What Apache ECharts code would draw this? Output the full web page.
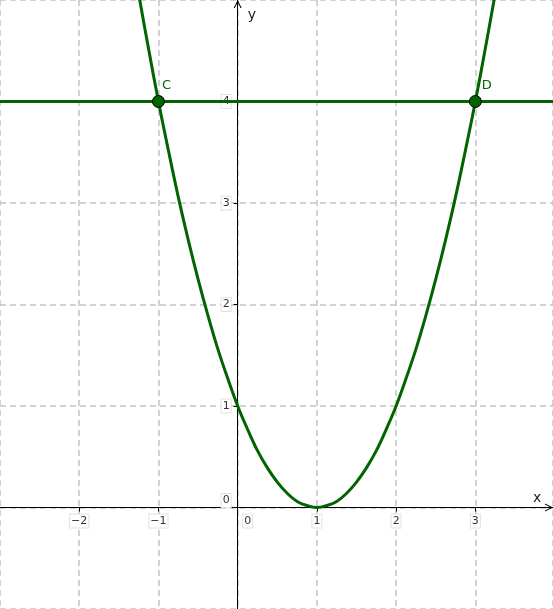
<!DOCTYPE html>
<html><head><meta charset="utf-8">
<script src="https://cdn.jsdelivr.net/npm/echarts@6/dist/echarts.min.js"></script>
<style>html,body{margin:0;padding:0;background:#fff}#c{width:553px;height:609px}</style>
</head><body><div id="c"></div>
<script>
// View window
const xMin = -3, xMax = 3.98;
const yMin = -1, yMax = 5;
// Tick labels
const xTicks = [-2, -1, 0, 1, 2, 3];
const xTickText = ['\u22122', '\u22121', '0', '1', '2', '3'];
const yTicks = [0, 1, 2, 3, 4];
const yTickText = ['0', '1', '2', '3', '4'];
// Parabola points
const parabolaX = [-1.25, -1.125, -1, -0.875, -0.75, -0.625, -0.5, -0.375, -0.25, -0.125, 0, 0.125, 0.25, 0.375, 0.5, 0.625, 0.75, 0.875, 1,
                   1.125, 1.25, 1.375, 1.5, 1.625, 1.75, 1.875, 2, 2.125, 2.25, 2.375, 2.5, 2.625, 2.75, 2.875, 3, 3.125, 3.25];
const parabolaY = [5.06, 4.52, 4, 3.52, 3.06, 2.64, 2.25, 1.89, 1.56, 1.27, 1, 0.77, 0.56, 0.39, 0.25, 0.14, 0.06, 0.02, 0,
                   0.02, 0.06, 0.14, 0.25, 0.39, 0.56, 0.77, 1, 1.27, 1.56, 1.89, 2.25, 2.64, 3.06, 3.52, 4, 4.52, 5.06];
// Horizontal line y = 4
const lineX = [xMin, xMax];
const lineY = [4, 4];
// Points
const pointNames = ['C', 'D'];
const pointX = [-1, 3];
const pointY = [4, 4];

const W = 553, H = 609;
const green = '#006400';
const labelBox = {color:'#333', fontSize:11, fontFamily:'DejaVu Sans, sans-serif', backgroundColor:'#fff', borderColor:'#e2e2e2', borderWidth:1, padding:[1,1,1,1]};
const arrow = 'path://M0,10 L5,0 L10,10 L8.6,10 L5,2.8 L1.4,10 Z';
// place axes through the origin (scale-derived offsets)
const xAxisOffset = -((0 - yMin) / (yMax - yMin)) * H;
const yAxisOffset = -((0 - xMin) / (xMax - xMin)) * W;

function lookup(ticks, texts, v){
  const i = ticks.indexOf(Math.round(v*1000)/1000);
  return i < 0 ? '' : texts[i];
}

const chart = echarts.init(document.getElementById('c'), null, {renderer:'canvas'});
chart.setOption({
  animation:false,
  backgroundColor:'#fff',
  grid:{left:0, right:0, top:0, bottom:0, containLabel:false, outerBoundsMode:'none'},
  xAxis:{
    type:'value', min:xMin, max:xMax, interval:1, position:'bottom', offset:xAxisOffset,
    name:'x', nameLocation:'end', nameGap:-20,
    nameTextStyle:{color:'#222', fontSize:14, fontFamily:'DejaVu Sans, sans-serif', align:'left', verticalAlign:'bottom', padding:[0,0,2,0]},
    axisLine:{onZero:false, lineStyle:{color:'#000', width:1}, symbol:['none', arrow], symbolSize:[9,8], symbolOffset:[0,-4]},
    axisTick:{show:true, length:4, lineStyle:{color:'#000'}},
    axisLabel:{showMinLabel:false, showMaxLabel:false, margin:7, hideOverlap:false,
      formatter:function(v){ const t = lookup(xTicks, xTickText, v); if(!t) return ''; return v===0 ? '{g|}{n|'+t+'}' : '{n|'+t+'}'; },
      rich:{n:labelBox, g:{width:20}}},
    splitLine:{show:true, lineStyle:{type:[6,4], color:'#c4c4c4', width:1.5}}
  },
  yAxis:{
    type:'value', min:yMin, max:yMax, interval:1, position:'left', offset:yAxisOffset,
    name:'y', nameLocation:'end', nameGap:-22,
    nameTextStyle:{color:'#222', fontSize:14, fontFamily:'DejaVu Sans, sans-serif', align:'left', verticalAlign:'bottom', padding:[0,0,0,10]},
    axisLine:{onZero:false, lineStyle:{color:'#000', width:1}, symbol:['none', arrow], symbolSize:[9,8], symbolOffset:[0,-4]},
    axisTick:{show:true, length:4, lineStyle:{color:'#000'}},
    axisLabel:{showMinLabel:false, showMaxLabel:false, margin:7, hideOverlap:false,
      formatter:function(v){ const t = lookup(yTicks, yTickText, v); if(!t) return ''; return v===0 ? '{n|'+t+'}\n{g|}' : '{n|'+t+'}'; },
      rich:{n:labelBox, g:{height:14, lineHeight:14}}},
    splitLine:{show:true, lineStyle:{type:[6,4], color:'#c4c4c4', width:1.5}}
  },
  series:[
    {type:'line', data:parabolaX.map((x,i)=>[x, parabolaY[i]]), smooth:0.4, showSymbol:false, lineStyle:{color:green, width:3}, z:3},
    {type:'line', data:lineX.map((x,i)=>[x, lineY[i]]), showSymbol:false, lineStyle:{color:green, width:3}, z:3},
    {type:'scatter', symbolSize:12, z:5,
      itemStyle:{color:green, borderColor:'#000', borderWidth:1, opacity:1},
      label:{show:true, formatter:'{b}', color:green, fontSize:13, fontFamily:'DejaVu Sans, sans-serif'},
      data:pointNames.map((n,i)=>({name:n, value:[pointX[i], pointY[i]], label:{position: i===0 ? [10,-16] : [13,-16]}}))}
  ]
});
</script></body></html>
